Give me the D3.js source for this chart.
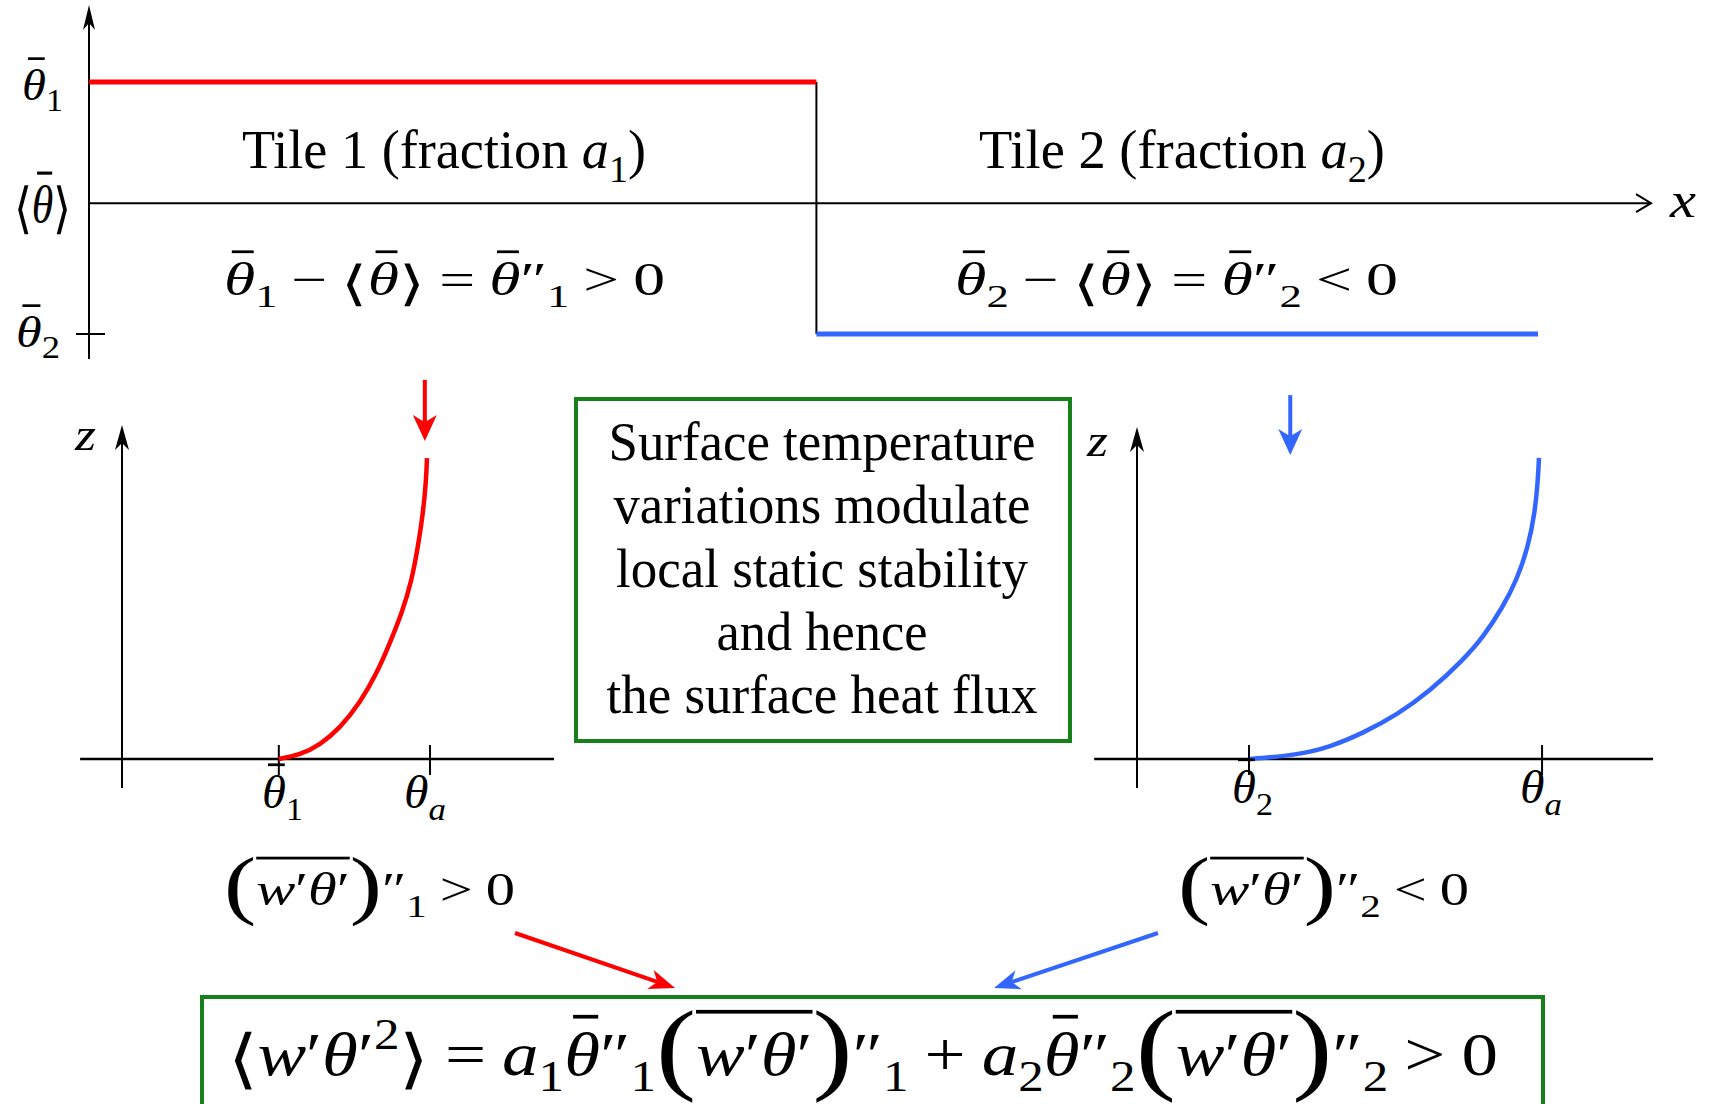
<!DOCTYPE html>
<html>
<head>
<meta charset="utf-8" />
<script src="https://d3js.org/d3.v7.min.js"></script>
<style>
  body { margin: 0; background: #fff; }
</style>
</head>
<body>
<div id="fig"></div>
<script>
// ---------- data ----------
const tileFraction = [0.502, 0.498];      // a1, a2
const tileTheta = [1.0, -1.08];           // theta-bar_1, theta-bar_2 relative to <theta-bar>
const meanTheta = 0;
const tileColor = ["#ff0000", "#3366ff"];

// theta(z) profiles above each tile, arbitrary units
const profile1 = [[3.63,0],[4.12,0.12],[4.58,0.42],[5.05,0.93],[5.51,1.68],[5.90,2.57],[6.20,3.47],[6.48,4.37],[6.71,5.36],[6.85,6.35],[6.97,7.37],[7.04,8.35],[7.06,9.01]];
const profile2 = [[2.19,0],[3.10,0.12],[3.74,0.36],[4.38,0.78],[5.04,1.33],[5.68,2.05],[6.32,2.98],[6.71,3.67],[7.09,4.58],[7.36,5.39],[7.58,6.39],[7.71,7.41],[7.77,8.40],[7.79,9.07]];
const profileTicks1 = [3.63, 7.13];       // theta-bar_1, theta_a
const profileTicks2 = [2.17, 7.85];       // theta-bar_2, theta_a
const downArrow1 = [7.01, 11.35, 9.52];   // x, z from, z to
const downArrow2 = [2.97, 10.96, 9.16];

const boxLines = ["Surface temperature", "variations modulate", "local static stability", "and hence", "the surface heat flux"];
const boxWidths = [427, 417, 412, 211, 431];

const green = "#18801a";
const serif = "'Liberation Serif', 'Times New Roman', Times, serif";

const svg = d3.select("#fig").append("svg").attr("width", 1710).attr("height", 1104);

// ---------- helpers ----------
function head(tip, from, len, hw, color) {
  const a = Math.atan2(tip[1] - from[1], tip[0] - from[0]) * 180 / Math.PI;
  svg.append("path")
    .attr("d", `M0,0 L${-len},${-hw} L${-len*0.72},0 L${-len},${hw} Z`)
    .attr("fill", color)
    .attr("transform", `translate(${tip[0]},${tip[1]}) rotate(${a})`);
}
function arrow(from, tip, len, hw, color, w) {
  const a = Math.atan2(tip[1] - from[1], tip[0] - from[0]);
  svg.append("line")
    .attr("x1", from[0]).attr("y1", from[1])
    .attr("x2", tip[0] - Math.cos(a)*len*0.72).attr("y2", tip[1] - Math.sin(a)*len*0.72)
    .attr("stroke", color).attr("stroke-width", w);
  head(tip, from, len, hw, color);
}
function seg(x1, y1, x2, y2, w, color) {
  svg.append("line").attr("x1", x1).attr("y1", y1).attr("x2", x2).attr("y2", y2)
    .attr("stroke", color || "#000").attr("stroke-width", w);
}

// small math typesetter: pieces laid out one after another
const it = s => ({s, it: true});
const rm = s => ({s});
const sb = s => ({s, k: 0.7, dy: 0.25});
const sp = s => ({s, k: 0.7, dy: -0.42});
const op = s => ({s, gl: 0.22, gr: 0.22});
const tb = {s: "θ", it: true, bar: true};
const la = {s: "⟨", k: 1.05, dy: 0.1}, ra = {s: "⟩", k: 1.05, dy: 0.1};
const lp = {s: "(", k: 1.65, dy: 0.1}, rp = {s: ")", k: 1.65, dy: 0.1};
const olS = {ol: 0}, olE = {ol: 1};
const flux = [lp, olS, it("w"), rm("′"), it("θ"), rm("′"), olE, rp, rm("″")];

function mrow(pieces, fs) {
  const g = svg.append("g");
  let x = 0, olx = 0;
  pieces.forEach(p => {
    if (p.ol === 0) { olx = x; return; }
    if (p.ol === 1) {
      g.append("rect").attr("x", olx).attr("y", -1.05*fs).attr("width", x - olx).attr("height", 0.06*fs);
      return;
    }
    x += (p.gl || 0) * fs;
    const t = g.append("text").attr("x", x).attr("y", (p.dy || 0) * fs)
      .attr("font-family", serif).attr("fill", "#000")
      .attr("font-size", fs * (p.k || 1)).text(p.s);
    if (p.it) t.attr("font-style", "italic");
    const w = t.node().getComputedTextLength();
    if (p.bar) g.append("rect").attr("x", x + 0.25*w).attr("y", -0.97*fs)
      .attr("width", 0.7*w).attr("height", 0.06*fs);
    x += w + (p.gr || 0) * fs;
  });
  return {g, w: x};
}
function place(row, x0, x1, y) {
  row.g.attr("transform", `translate(${x0},${y}) scale(${(x1 - x0) / row.w},1)`);
}

// ---------- top panel: tile temperatures ----------
const xTop = d3.scaleLinear().domain([0, 1]).range([89, 1538]);
const yTop = d3.scaleLinear().domain([tileTheta[1], tileTheta[0]]).range([334, 82]);
const xEdges = [0, tileFraction[0], tileFraction[0] + tileFraction[1]];

// x axis at <theta-bar>
seg(xTop(0), yTop(meanTheta), xTop(1.078), yTop(meanTheta), 2);
svg.append("path").attr("d", `M${xTop(1.078)-15},${yTop(meanTheta)-9} L${xTop(1.078)},${yTop(meanTheta)} L${xTop(1.078)-15},${yTop(meanTheta)+9}`)
  .attr("fill", "none").attr("stroke", "#000").attr("stroke-width", 2);
// y axis
arrow([xTop(0), 359], [xTop(0), 5], 25, 6, "#000", 2);
seg(76, yTop(tileTheta[1]), 105, yTop(tileTheta[1]), 2);

// step: vertical connector then tile levels
seg(xTop(xEdges[1]), yTop(tileTheta[0]), xTop(xEdges[1]), yTop(tileTheta[1]), 2);
tileTheta.forEach((v, i) => {
  svg.append("line")
    .attr("x1", xTop(xEdges[i])).attr("x2", xTop(xEdges[i + 1]))
    .attr("y1", yTop(v)).attr("y2", yTop(v))
    .attr("stroke", tileColor[i]).attr("stroke-width", 5);
});

place(mrow([tb, sb("1")], 44), 22, 63, 100);
place(mrow([la, tb, ra], 52), 14, 71, 222);
place(mrow([tb, sb("2")], 44), 16, 60, 347);
place(mrow([it("x")], 50), 1670, 1696, 217);

place(mrow([{s: "Tile 1 (fraction", gr: 0.25}, it("a"), sb("1"), rm(")")], 54), 242, 646, 168);
place(mrow([{s: "Tile 2 (fraction", gr: 0.25}, it("a"), sb("2"), rm(")")], 54), 979, 1385, 168);

place(mrow([tb, sb("1"), op("−"), la, tb, ra, op("="), tb, rm("″"), sb("1"), op(">"), rm("0")], 46), 224, 665, 295);
place(mrow([tb, sb("2"), op("−"), la, tb, ra, op("="), tb, rm("″"), sb("2"), op("<"), rm("0")], 46), 955, 1398, 295);

// ---------- profile panels ----------
function profilePanel(xr, zr, axisLeft, prof, ticks, color, arr) {
  const x = d3.scaleLinear().domain([0, 10]).range(xr);
  const z = d3.scaleLinear().domain([0, 10]).range(zr);
  seg(x(axisLeft), z(0), x(10), z(0), 2.5);
  arrow([x(0), z(-0.87)], [x(0), z(10)], 25, 7, "#000", 2);
  ticks.forEach(t => seg(x(t), z(0) - 14, x(t), z(0) + 16, 2));
  svg.append("path")
    .attr("d", d3.line().x(d => x(d[0])).y(d => z(d[1])).curve(d3.curveBasis)(prof))
    .attr("fill", "none").attr("stroke", color).attr("stroke-width", 4.5);
  arrow([x(arr[0]), z(arr[1])], [x(arr[0]), z(arr[2])], 26, 12, color, 4);
}
profilePanel([122, 554], [759, 425], -0.97, profile1, profileTicks1, tileColor[0], downArrow1);
profilePanel([1137, 1653], [759, 427], -0.83, profile2, profileTicks2, tileColor[1], downArrow2);

place(mrow([it("z")], 46), 75, 96, 450);
place(mrow([it("z")], 46), 1087, 1108, 456);
place(mrow([tb, sb("1")], 46), 262, 303, 808);
place(mrow([it("θ"), {s: "a", it: true, k: 0.7, dy: 0.25}], 46), 404, 446, 808);
place(mrow([tb, sb("2")], 46), 1232, 1273, 803);
place(mrow([it("θ"), {s: "a", it: true, k: 0.7, dy: 0.25}], 46), 1520, 1562, 803);

// ---------- middle box ----------
svg.append("rect").attr("x", 576).attr("y", 399).attr("width", 494).attr("height", 342)
  .attr("fill", "none").attr("stroke", green).attr("stroke-width", 4);
boxLines.forEach((s, i) => {
  const r = mrow([rm(s)], 54);
  place(r, 822 - boxWidths[i] / 2, 822 + boxWidths[i] / 2, 460 + i * 63.3);
});

// ---------- flux labels and arrows ----------
place(mrow([...flux, sb("1"), op(">"), rm("0")], 46), 224, 515, 905);
place(mrow([...flux, sb("2"), op("<"), rm("0")], 46), 1178, 1469, 905);
arrow([515, 933], [675, 988], 26, 10, tileColor[0], 4);
arrow([1158, 933], [994, 988], 26, 10, tileColor[1], 4);

// ---------- bottom box ----------
svg.append("rect").attr("x", 202).attr("y", 997).attr("width", 1341).attr("height", 140)
  .attr("fill", "none").attr("stroke", green).attr("stroke-width", 4);
place(mrow([
  la, it("w"), rm("′"), it("θ"), rm("′"), sp("2"), ra, op("="),
  it("a"), sb("1"), tb, rm("″"), sb("1"), ...flux, sb("1"), op("+"),
  it("a"), sb("2"), tb, rm("″"), sb("2"), ...flux, sb("2"), op(">"), rm("0")
], 62), 228, 1498, 1075);
</script>
</body>
</html>
